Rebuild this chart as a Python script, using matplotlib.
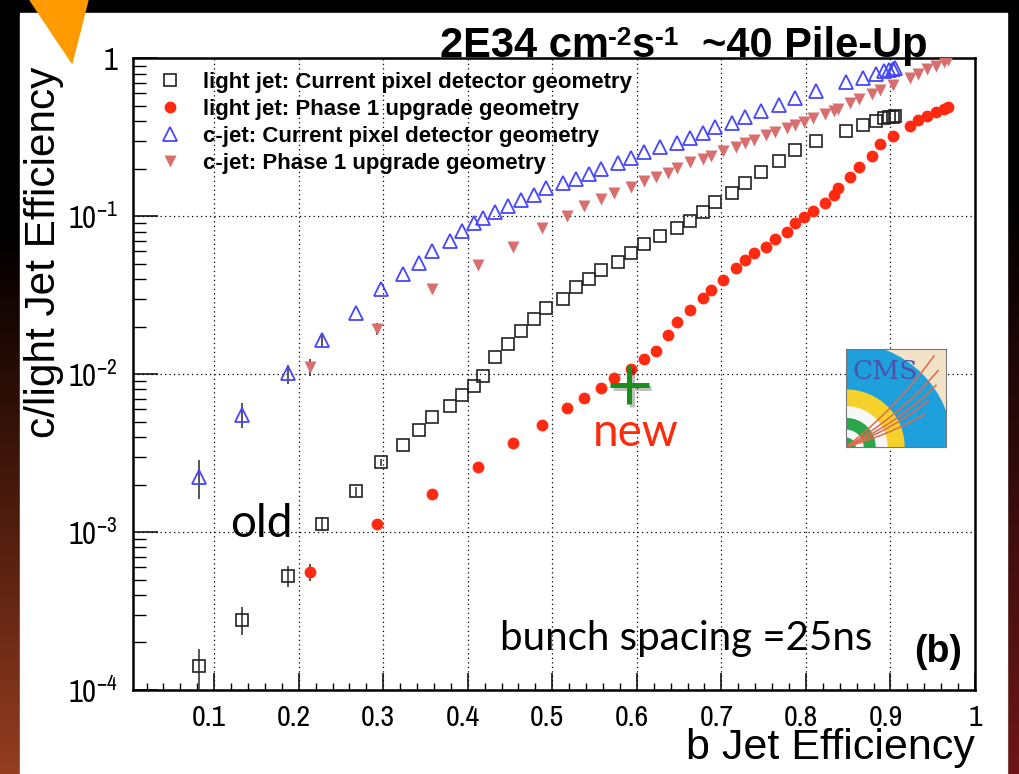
import numpy as np
import matplotlib
matplotlib.use("Agg")
import matplotlib.pyplot as plt
import matplotlib.patheffects as pe
import matplotlib.transforms as mtransforms
from matplotlib.patches import Rectangle, Polygon, Wedge
from matplotlib.ticker import FixedLocator, FixedFormatter, NullFormatter

# ---------------- data ----------------
# b-jet efficiency working points of the current pixel detector geometry
b_eff_current = [0.0826, 0.1328, 0.1879, 0.2275, 0.2678, 0.2976, 0.3230, 0.3429, 0.3578, 0.3785,
                 0.3927, 0.4069, 0.4179, 0.4325, 0.4481, 0.4630, 0.4779, 0.4929, 0.5128, 0.5280,
                 0.5430, 0.5580, 0.5773, 0.5931, 0.6080, 0.6270, 0.6476, 0.6630, 0.6779, 0.6929,
                 0.7127, 0.7284, 0.7473, 0.7678, 0.7876, 0.8124, 0.8476, 0.8672, 0.8831, 0.8929,
                 0.8980, 0.9027, 0.9059]
light_current = [1.41e-4, 2.79e-4, 5.29e-4, 1.13e-3, 1.82e-3, 2.76e-3, 3.58e-3, 4.44e-3, 5.33e-3, 6.30e-3,
                 7.40e-3, 8.40e-3, 9.68e-3, 1.29e-2, 1.55e-2, 1.87e-2, 2.24e-2, 2.62e-2, 3.01e-2, 3.57e-2,
                 4.00e-2, 4.57e-2, 5.12e-2, 5.83e-2, 6.68e-2, 7.54e-2, 8.39e-2, 9.38e-2, 0.106, 0.123,
                 0.140, 0.162, 0.190, 0.224, 0.263, 0.300, 0.348, 0.378, 0.403, 0.417,
                 0.423, 0.427, 0.430]
c_current = [2.24e-3, 5.53e-3, 1.01e-2, 1.65e-2, 2.43e-2, 3.45e-2, 4.30e-2, 5.08e-2, 6.03e-2, 6.95e-2,
             8.04e-2, 9.11e-2, 9.80e-2, 0.107, 0.116, 0.127, 0.136, 0.150, 0.163, 0.172,
             0.185, 0.198, 0.216, 0.233, 0.256, 0.273, 0.292, 0.315, 0.338, 0.369,
             0.388, 0.427, 0.464, 0.506, 0.563, 0.621, 0.705, 0.754, 0.796, 0.831,
             0.843, 0.855, 0.862]
light_current_err = [0.40e-4, 0.57e-4, 0.80e-4, 0.11e-3, 0.12e-3, 0.15e-3]
c_current_err = [0.63e-3, 1.0e-3, 1.4e-3, 0.17e-2]

# b-jet efficiency working points of the Phase 1 upgrade geometry
b_eff_phase1 = [0.2128, 0.2925, 0.3576, 0.4126, 0.4530, 0.4878, 0.5176, 0.5376, 0.5577, 0.5725,
                0.5930, 0.6080, 0.6228, 0.6373, 0.6473, 0.6627, 0.6781, 0.6878, 0.7025, 0.7178,
                0.7284, 0.7386, 0.7531, 0.7629, 0.7778, 0.7876, 0.7974, 0.8080, 0.8226, 0.8333,
                0.8378, 0.8518, 0.8625, 0.8779, 0.8882, 0.9027, 0.9228, 0.9323, 0.9434, 0.9533,
                0.9631, 0.9678]
light_phase1 = [5.61e-4, 1.13e-3, 1.74e-3, 2.59e-3, 3.66e-3, 4.73e-3, 6.08e-3, 7.03e-3, 8.23e-3, 9.51e-3,
                1.08e-2, 1.24e-2, 1.40e-2, 1.77e-2, 2.13e-2, 2.53e-2, 3.04e-2, 3.42e-2, 3.94e-2, 4.72e-2,
                5.29e-2, 5.83e-2, 6.42e-2, 7.15e-2, 7.92e-2, 9.03e-2, 9.94e-2, 0.108, 0.122, 0.136,
                0.152, 0.176, 0.204, 0.242, 0.286, 0.324, 0.375, 0.407, 0.431, 0.455,
                0.478, 0.490]
c_phase1 = [1.11e-2, 1.93e-2, 3.45e-2, 4.92e-2, 6.42e-2, 8.39e-2, 0.101, 0.116, 0.129, 0.141,
            0.153, 0.166, 0.177, 0.189, 0.201, 0.219, 0.231, 0.242, 0.260, 0.276,
            0.290, 0.304, 0.327, 0.340, 0.360, 0.378, 0.397, 0.421, 0.442, 0.464,
            0.478, 0.519, 0.550, 0.592, 0.630, 0.678, 0.747, 0.792, 0.856, 0.898,
            0.943, 0.976]
light_phase1_err = [0.7e-4, 0.05e-3]
c_phase1_err = [1.4e-3, 0.17e-2]

# highlighted working point
new_point_b = 0.591
new_point_light = 8.55e-3

series_labels = [
    "light jet: Current pixel detector geometry",
    "light jet: Phase 1 upgrade geometry",
    "c-jet: Current pixel detector geometry",
    "c-jet: Phase 1 upgrade geometry",
]
x_tick_values = [0.1, 0.2, 0.3, 0.4, 0.5, 0.6, 0.7, 0.8, 0.9, 1.0]
x_tick_labels = ["0.1", "0.2", "0.3", "0.4", "0.5", "0.6", "0.7", "0.8", "0.9", "1"]
y_tick_values = [1e-4, 1e-3, 1e-2, 1e-1, 1.0]
y_tick_labels = [r"$\mathregular{10^{-4}}$", r"$\mathregular{10^{-3}}$",
                 r"$\mathregular{10^{-2}}$", r"$\mathregular{10^{-1}}$", "1"]

# ---------------- fonts ----------------
NARROW = ["Liberation Sans Narrow", "Archivo Narrow", "PT Sans Narrow", "Liberation Sans"]

plt.rcParams["font.family"] = ["Liberation Sans", "DejaVu Sans"]
plt.rcParams["mathtext.fontset"] = "custom"
plt.rcParams["mathtext.rm"] = "Liberation Sans"
plt.rcParams["mathtext.bf"] = "Liberation Sans:bold"

W, H = 1020, 774
fig = plt.figure(figsize=(W / 100, H / 100), dpi=100, facecolor="black")
renderer = fig.canvas.get_renderer()


def fx(px):
    return px / W


def fy(py):
    return 1 - py / H


# ---------------- slide background ----------------
bg = fig.add_axes([0, 0, 1, 1], zorder=-10)
bg.set_xlim(0, W)
bg.set_ylim(H, 0)
bg.axis("off")
t = np.linspace(0, 1, 256)[:, None]
left_ramp = np.clip((t - 0.3) / 0.7, 0, 1)
left_img = np.dstack([0.58 * left_ramp, 0.24 * left_ramp ** 1.2, 0.13 * left_ramp ** 1.3])
right_ramp = np.clip((t - 0.25) / 0.75, 0, 1)
right_img = np.dstack([0.42 * right_ramp, 0.09 * right_ramp, 0.09 * right_ramp])
bg.imshow(left_img, extent=[0, 22, H, 0], aspect="auto")
bg.imshow(right_img, extent=[1000, W, H, 0], aspect="auto")
bg.add_patch(Rectangle((0, 0), W, 13, color="black", zorder=1))
bg.add_patch(Rectangle((20, 13), 987, H - 13, color="white", zorder=2))
bg.add_patch(Polygon([(30, 0), (88, 0), (72, 63)], closed=True, color="#ff9a00", zorder=3))

# ---------------- main axes ----------------
ax = fig.add_axes([fx(133), fy(690), fx(975) - fx(133), fy(58.3) - fy(690)])
ax.set_yscale("log")
ax.set_xlim(0.004, 1.0)
ax.set_ylim(1e-4, 1.0)

grid_kw = dict(color="black", lw=0.9, ls=(0, (1, 2.6)), zorder=0.5)
for gx in x_tick_values:
    ax.axvline(gx, **grid_kw)
for gy in y_tick_values[1:-1]:
    ax.axhline(gy, **grid_kw)

col_light_cur = "#222222"
col_light_p1 = "#ff2a10"
col_c_cur = "#4646ff"
col_c_p1 = "#d86e6e"
err_col = "#3a3a3a"


def pad_err(err, n):
    return list(err) + [0.0] * (n - len(err))


for xs, ys, err in [(b_eff_current, light_current, light_current_err),
                    (b_eff_current, c_current, c_current_err),
                    (b_eff_phase1, light_phase1, light_phase1_err),
                    (b_eff_phase1, c_phase1, c_phase1_err)]:
    ax.errorbar(xs, ys, yerr=pad_err(err, len(ys)), fmt="none", ecolor=err_col,
                elinewidth=1.2, capsize=0, zorder=2)

h1, = ax.plot(b_eff_current, light_current, ls="none", marker="s", ms=8.5, mfc="none",
              mec=col_light_cur, mew=1.2, zorder=3, label=series_labels[0])
h2, = ax.plot(b_eff_phase1, light_phase1, ls="none", marker="o", ms=8.5, mfc=col_light_p1,
              mec="none", zorder=3, label=series_labels[1])
h3, = ax.plot(b_eff_current, c_current, ls="none", marker="^", ms=9.5, mfc="none",
              mec=col_c_cur, mew=1.3, zorder=3, label=series_labels[2])
h4, = ax.plot(b_eff_phase1, c_phase1, ls="none", marker="v", ms=8.5, mfc=col_c_p1,
              mec="none", zorder=3, label=series_labels[3])

ax.plot([new_point_b], [new_point_light], ls="none", marker="+", ms=28, mew=3.6, color="#1b8f1b",
        zorder=5, path_effects=[pe.SimpleLineShadow(offset=(2, -2), shadow_color="black", alpha=0.25),
                                pe.Normal()])

leg = ax.legend(handles=[h1, h2, h3, h4], loc="upper left", bbox_to_anchor=(0.025, 0.985),
                frameon=False, prop=dict(family="Liberation Sans", weight="bold", size=16),
                handlelength=1.0, handletextpad=1.0, labelspacing=0.26, borderpad=0.2,
                borderaxespad=0)

# axis frame and ticks
for s in ax.spines.values():
    s.set_linewidth(1.8)
ax.xaxis.set_major_locator(FixedLocator(x_tick_values))
ax.xaxis.set_major_formatter(FixedFormatter(x_tick_labels))
ax.xaxis.set_minor_locator(FixedLocator(np.arange(0.02, 1.0, 0.02)))
ax.yaxis.set_major_locator(FixedLocator(y_tick_values))
ax.yaxis.set_major_formatter(FixedFormatter(y_tick_labels))
minor_y = [m * 10.0 ** e for e in range(-4, 0) for m in range(2, 10)]
ax.yaxis.set_minor_locator(FixedLocator(minor_y))
ax.yaxis.set_minor_formatter(NullFormatter())
ax.tick_params(axis="x", which="major", direction="in", length=12, width=1.1, pad=10,
               labelsize=21.5, top=False, labelfontfamily=NARROW)
ax.tick_params(axis="x", which="minor", direction="in", length=5, width=1.0, top=False)
ax.tick_params(axis="y", which="major", direction="in", length=18, width=1.1, pad=11,
               labelsize=22, right=False, labelfontfamily=NARROW)
ax.tick_params(axis="y", which="minor", direction="in", length=9, width=1.0, right=False)

# the "0.x" labels sit slightly left of their ticks
shift_left = mtransforms.ScaledTranslation(-5 / 100, 0, fig.dpi_scale_trans)
for tick in ax.xaxis.get_major_ticks()[:-1]:
    tick.label1.set_transform(tick.label1.get_transform() + shift_left)

# ---------------- texts ----------------
fig.text(fx(975), fy(759), "b Jet Efficiency", fontsize=31, ha="right", va="baseline")
fig.text(fx(44), fy(252), "c/light Jet Efficiency", fontsize=30.5, rotation=90,
         ha="center", va="center")


def text_run(x_px, base_px, parts):
    """Draw bold pieces one after another; each part is (text, size, rise in px)."""
    for txt, size, rise in parts:
        tt = fig.text(fx(x_px), fy(base_px - rise), txt, fontsize=size, fontweight="bold",
                      ha="left", va="baseline")
        x_px += tt.get_window_extent(renderer).width


text_run(439.5, 57, [("2E34 cm", 30, 0), ("-2", 19, 12), ("s", 30, 0), ("-1", 19, 12)])
text_run(702, 57, [("~40 Pile-Up", 30, 0)])

fig.text(fx(230), fy(537), "old", fontsize=33, family="Lato", color="black", va="baseline")
fig.text(fx(593), fy(446), "new", fontsize=33, family="Lato", color="#ff2a0a", va="baseline")
fig.text(fx(500), fy(650), "bunch spacing =25ns", fontsize=29, family="Lato", color="black",
         va="baseline")
fig.text(fx(962), fy(662), "(b)", fontsize=27, fontweight="bold", ha="right", va="baseline")

# ---------------- CMS logo ----------------
logo = fig.add_axes([fx(846), fy(447), fx(946) - fx(846), fy(349) - fy(447)], zorder=6)
logo.set_xlim(0, 1)
logo.set_ylim(0, 1)
logo.set_xticks([])
logo.set_yticks([])
logo.set_facecolor("#f2e3c6")
for s in logo.spines.values():
    s.set_color("#777777")
    s.set_linewidth(0.8)
logo.add_patch(Wedge((0, 0), 1.06, 0, 90, width=0.48, color="#1ea0dc"))
logo.add_patch(Wedge((0, 0), 0.58, 0, 90, width=0.17, color="#f4d22a"))
logo.add_patch(Wedge((0, 0), 0.41, 0, 90, color="#f7f7f7"))
logo.add_patch(Wedge((0, 0), 0.29, 0, 90, width=0.12, color="#29a64a"))
logo.add_patch(Wedge((0, 0), 0.17, 0, 90, color="#f7f7f7"))
logo.add_patch(Wedge((0, 0), 0.09, 0, 90, color="#29a64a"))
s_par = np.linspace(0, 1, 40)
for ex, ey, bend in [(0.88, 0.93, 0.10), (0.92, 0.78, 0.12), (0.90, 0.63, 0.12),
                     (0.82, 0.47, 0.10), (0.78, 0.33, 0.08)]:
    cx, cy = ex * 0.45 + bend, ey * 0.45 - bend * 0.3
    bx = 2 * (1 - s_par) * s_par * cx + s_par ** 2 * ex
    by = 2 * (1 - s_par) * s_par * cy + s_par ** 2 * ey
    logo.plot(bx, by, color="#e0694e", lw=1.1)
logo.text(0.07, 0.77, "CMS", family="DejaVu Serif", fontsize=19, color="#5050a8",
          ha="left", va="center")

fig.savefig("out.png", dpi=100, facecolor=fig.get_facecolor())
